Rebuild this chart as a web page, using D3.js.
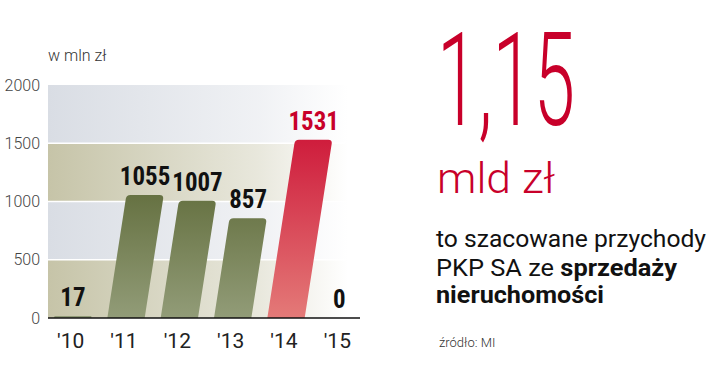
<!DOCTYPE html>
<html>
<head>
<meta charset="utf-8">
<script src="https://cdn.jsdelivr.net/npm/d3@7"></script>
<style>
  body { margin: 0; background: #fff; }
  svg { display: block; }
</style>
</head>
<body>
<script>
var years = ["'10", "'11", "'12", "'13", "'14", "'15"];
var values = [17, 1055, 1007, 857, 1531, 0];
var yTicks = [0, 500, 1000, 1500, 2000];
var highlight = "'14";

var w = 720, h = 368;
var plotLeft = 48, plotTop = 85, plotBottom = 318;
var slant = 0.155;

var svg = d3.select("body").append("svg")
    .attr("width", w).attr("height", h);

var defs = svg.append("defs");
function hgrad(id, c) {
  var g = defs.append("linearGradient").attr("id", id)
      .attr("x1", 0).attr("x2", 1).attr("y1", 0).attr("y2", 0);
  g.append("stop").attr("offset", "0%").attr("stop-color", c);
  g.append("stop").attr("offset", "70%").attr("stop-color", c).attr("stop-opacity", 0.4);
  g.append("stop").attr("offset", "100%").attr("stop-color", c).attr("stop-opacity", 0);
}
hgrad("bandGray", "#d9dde4");
hgrad("bandKhaki", "#c6c4a8");

function vgrad(id, c1, c2) {
  var g = defs.append("linearGradient").attr("id", id)
      .attr("gradientUnits", "userSpaceOnUse")
      .attr("x1", 0).attr("x2", 0).attr("y1", plotTop).attr("y2", plotBottom);
  g.append("stop").attr("offset", "0%").attr("stop-color", c1);
  g.append("stop").attr("offset", "100%").attr("stop-color", c2);
}
vgrad("olive", "#3f4c12", "#929c78");
vgrad("red", "#c8002a", "#e47a78");

var x = d3.scaleBand().domain(years).range([46, 366]).paddingInner(0.3).paddingOuter(0.15);
var y = d3.scaleLinear().domain([0, 2000]).range([plotBottom, plotTop]);

// background bands
var bands = d3.pairs(yTicks);
svg.append("g").selectAll("rect").data(bands).enter().append("rect")
    .attr("x", plotLeft)
    .attr("width", 300)
    .attr("y", function(d) { return y(d[1]); })
    .attr("height", function(d) { return y(d[0]) - y(d[1]); })
    .attr("fill", function(d, i) { return i % 2 === 0 ? "url(#bandKhaki)" : "url(#bandGray)"; });

svg.append("g").selectAll("line").data(yTicks.slice(1, -1)).enter().append("line")
    .attr("x1", plotLeft).attr("x2", 345)
    .attr("y1", function(d) { return y(d); })
    .attr("y2", function(d) { return y(d); })
    .attr("stroke", "#fff").attr("stroke-width", 1.5);

// y axis labels
var yAxis = d3.axisLeft(y).tickValues(yTicks).tickSize(0).tickPadding(8).tickFormat(d3.format("d"));
var ya = svg.append("g").attr("transform", "translate(" + plotLeft + ",0)").call(yAxis);
ya.select(".domain").remove();
ya.selectAll("text")
    .attr("font-family", "Roboto, 'DejaVu Sans', sans-serif")
    .attr("font-weight", 300)
    .attr("font-size", 16)
    .attr("fill", "#444");

// bars
function barPath(d, i) {
  var cx = x(years[i]) + x.bandwidth() / 2;
  var bw = x.bandwidth();
  var y0 = y(0), y1 = y(d);
  var hh = y0 - y1;
  var off = slant * hh;
  var r = Math.min(4, hh / 2);
  var xl = cx - bw / 2, xr = cx + bw / 2;
  var p = d3.path();
  p.moveTo(xl, y0);
  p.lineTo(xl + off - slant * r, y1 + r);
  p.quadraticCurveTo(xl + off, y1, xl + off + r, y1);
  p.lineTo(xr + off - r, y1);
  p.quadraticCurveTo(xr + off, y1, xr + off - slant * r, y1 + r);
  p.lineTo(xr, y0);
  p.closePath();
  return p.toString();
}
svg.append("g").selectAll("path").data(values).enter().append("path")
    .attr("d", barPath)
    .attr("fill", function(d, i) { return years[i] === highlight ? "url(#red)" : "url(#olive)"; });

// value labels
svg.append("g").selectAll("text").data(values).enter().append("text")
    .attr("x", function(d, i) {
      return x(years[i]) + x.bandwidth() / 2 + slant * (y(0) - y(d));
    })
    .attr("y", function(d) { return y(d) - 10; })
    .attr("text-anchor", "middle")
    .attr("textLength", function(d) { return String(d).length * 12.6; })
    .attr("lengthAdjust", "spacingAndGlyphs")
    .attr("font-family", "'Liberation Sans Narrow', 'Roboto Condensed', Roboto, sans-serif")
    .attr("font-weight", 700)
    .attr("font-size", 25)
    .attr("fill", function(d, i) { return years[i] === highlight ? "#c8002a" : "#111"; })
    .text(function(d) { return d; });

// x axis
svg.append("line")
    .attr("x1", plotLeft).attr("x2", 360)
    .attr("y1", y(0)).attr("y2", y(0))
    .attr("stroke", "#111").attr("stroke-width", 1.5);

var xAxis = d3.axisBottom(x).tickSize(0).tickPadding(15);
var xa = svg.append("g").attr("transform", "translate(-2," + y(0) + ")").call(xAxis);
xa.select(".domain").remove();
xa.selectAll("text")
    .attr("font-family", "Roboto, 'DejaVu Sans', sans-serif")
    .attr("font-size", 21)
    .attr("fill", "#222");

// unit
svg.append("text")
    .attr("x", plotLeft).attr("y", 61)
    .attr("font-family", "Roboto, 'DejaVu Sans', sans-serif")
    .attr("font-weight", 300)
    .attr("font-size", 16)
    .attr("fill", "#333")
    .text("w mln zł");

// right side texts
svg.append("text")
    .attr("x", 437).attr("y", 125)
    .attr("textLength", 138).attr("lengthAdjust", "spacingAndGlyphs")
    .attr("font-family", "Roboto, sans-serif")
    .attr("font-weight", 300)
    .attr("font-size", 130)
    .attr("fill", "#c8002a")
    .text("1,15");

svg.append("text")
    .attr("x", 437).attr("y", 193)
    .attr("textLength", 118).attr("lengthAdjust", "spacingAndGlyphs")
    .attr("font-family", "Roboto, sans-serif")
    .attr("font-weight", 300)
    .attr("font-size", 42)
    .attr("fill", "#c8002a")
    .text("mld zł");

var lineFont = "'Liberation Sans Narrow', Roboto, sans-serif";
svg.append("text")
    .attr("x", 436).attr("y", 247)
    .attr("textLength", 270).attr("lengthAdjust", "spacingAndGlyphs")
    .attr("font-family", lineFont).attr("font-size", 24).attr("fill", "#111")
    .text("to szacowane przychody");

var l2 = svg.append("text")
    .attr("x", 436).attr("y", 276)
    .attr("textLength", 241).attr("lengthAdjust", "spacingAndGlyphs")
    .attr("font-family", lineFont).attr("font-size", 24).attr("fill", "#111");
l2.append("tspan").text("PKP SA ze ");
l2.append("tspan").attr("font-weight", 700).text("sprzedaży");

svg.append("text")
    .attr("x", 436).attr("y", 303)
    .attr("textLength", 168).attr("lengthAdjust", "spacingAndGlyphs")
    .attr("font-family", lineFont).attr("font-weight", 700)
    .attr("font-size", 24).attr("fill", "#111")
    .text("nieruchomości");

svg.append("text")
    .attr("x", 439).attr("y", 347)
    .attr("font-family", "Roboto, 'DejaVu Sans', sans-serif")
    .attr("font-weight", 300)
    .attr("font-size", 13)
    .attr("fill", "#333")
    .text("źródło: MI");
</script>
</body>
</html>
